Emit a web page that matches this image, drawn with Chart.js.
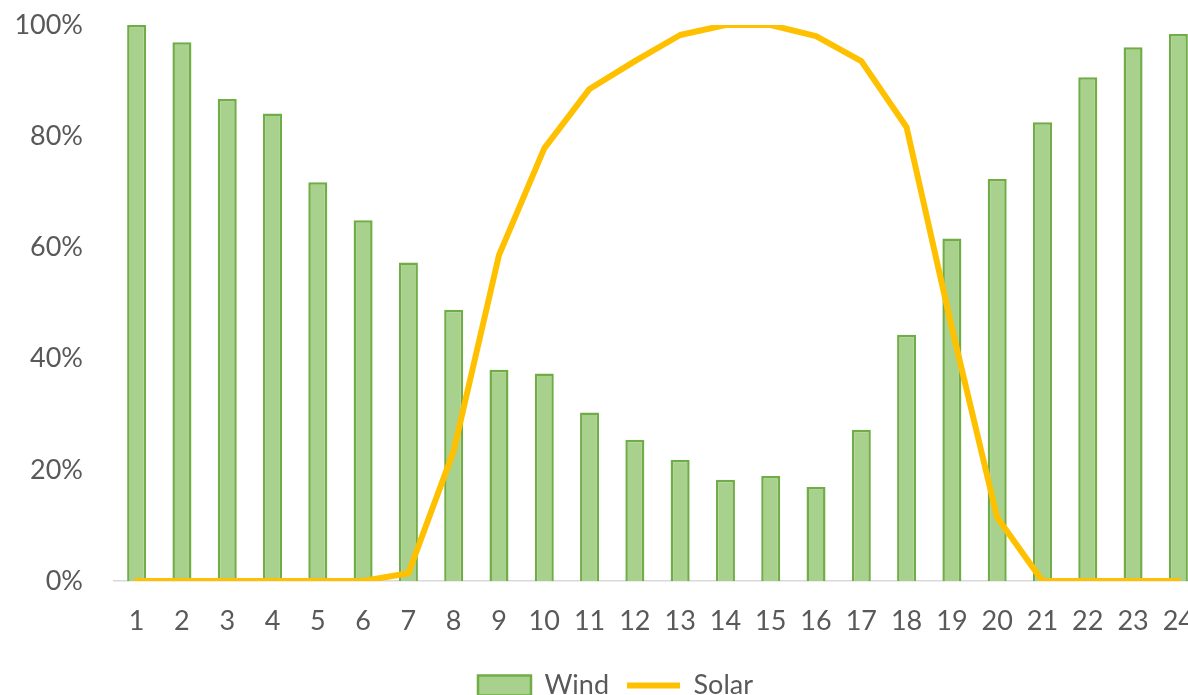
<!DOCTYPE html>
<html>
<head>
<meta charset="utf-8">
<script src="https://cdn.jsdelivr.net/npm/chart.js@4"></script>
<style>
html, body { margin: 0; padding: 0; overflow: hidden; background: #fff; width: 1188px; height: 695px; }
#wrap { position: absolute; left: 0; top: 0; width: 1201px; height: 709px; }
</style>
</head>
<body>
<div id="wrap"><canvas id="c" width="1201" height="709"></canvas></div>
<script>
const categories = ['1','2','3','4','5','6','7','8','9','10','11','12','13','14','15','16','17','18','19','20','21','22','23','24'];
const windValues = [100, 96.9, 86.7, 84.1, 71.7, 64.9, 57.3, 48.8, 38.0, 37.3, 30.3, 25.4, 21.8, 18.2, 18.9, 16.9, 27.2, 44.3, 61.6, 72.3, 82.5, 90.6, 96.0, 98.4];
const solarValues = [0, 0, 0, 0, 0, 0, 1.4, 23.4, 58.6, 77.8, 88.5, 93.5, 98.2, 100, 100, 98.0, 93.5, 81.6, 45.5, 11.4, 0, 0, 0, 0];
const yTicks = [0, 20, 40, 60, 80, 100];

const FONT = 'Lato, "Open Sans", sans-serif';
const TEXT = '#595959';

const legendShift = {
  id: 'legendShift',
  afterLayout(chart) {
    if (chart.legend) { chart.legend.left += 15; chart.legend.right += 15; }
  }
};

new Chart(document.getElementById('c'), {
  data: {
    labels: categories,
    datasets: [
      {
        type: 'line',
        label: 'Solar',
        data: solarValues,
        borderColor: '#FFC000',
        backgroundColor: '#FFC000',
        borderWidth: 6,
        pointRadius: 0,
        tension: 0,
        borderCapStyle: 'round',
        borderJoinStyle: 'round',
        pointStyle: 'line'
      },
      {
        type: 'bar',
        label: 'Wind',
        data: windValues,
        backgroundColor: '#A9D18E',
        borderColor: '#70AD47',
        borderWidth: 2.5,
        borderSkipped: 'start',
        barPercentage: 0.42,
        categoryPercentage: 1,
        pointStyle: 'rect'
      }
    ]
  },
  plugins: [legendShift],
  options: {
    responsive: false,
    animation: false,
    devicePixelRatio: 1,
    layout: { padding: { top: 25, left: 0, right: 0, bottom: 0 } },
    plugins: {
      tooltip: { enabled: false },
      legend: {
        position: 'bottom',
        reverse: true,
        labels: {
          usePointStyle: true,
          pointStyleWidth: 53,
          boxHeight: 20,
          padding: 18,
          color: TEXT,
          font: { family: FONT, size: 27 }
        }
      }
    },
    scales: {
      x: {
        type: 'category',
        offset: true,
        grid: { display: false, drawTicks: false },
        border: { display: true, color: '#D9D9D9', width: 1.5 },
        ticks: { color: TEXT, font: { family: FONT, size: 27 }, padding: 24, maxRotation: 0, autoSkip: false },
        afterFit: (s) => { s.height = 73; s.paddingLeft = 0; s.paddingRight = 0; }
      },
      y: {
        min: 0,
        max: 100,
        grid: { display: false, drawTicks: false },
        border: { display: false },
        afterBuildTicks: (s) => { s.ticks = yTicks.map(v => ({ value: v })); },
        ticks: {
          color: TEXT,
          font: { family: FONT, size: 27 },
          padding: 31,
          callback: (v) => v + '%'
        },
        afterFit: (s) => { s.width = 114; s.paddingTop = 0; s.paddingBottom = 0; }
      }
    }
  }
});
</script>
</body>
</html>
